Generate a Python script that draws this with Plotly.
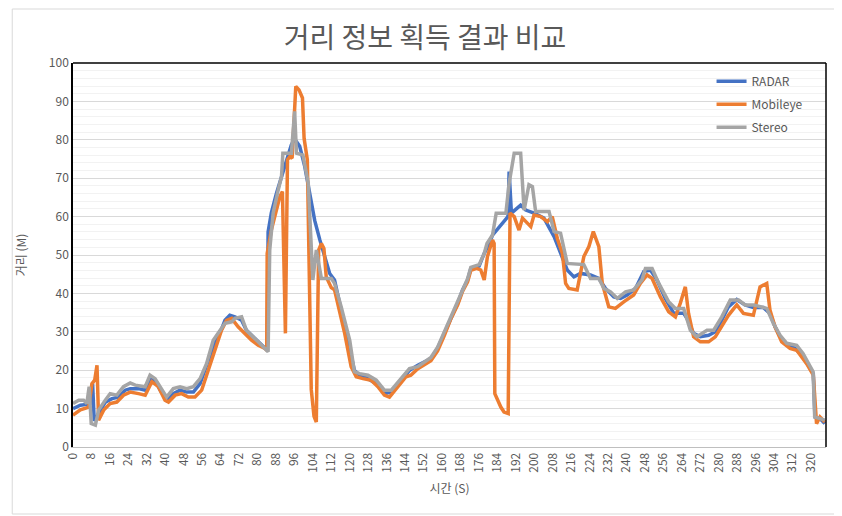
import plotly.graph_objects as go

# ── Data (time in s, distance in m) ─────────────────────────────────────────
radar_t = [0, 3.2, 6, 7.5, 8.5, 9.2, 11.1, 14, 16.9, 19.7, 22.6, 24.8, 28.4, 31.3, 33.4, 35.6,
           37.8, 40.6, 43.5, 46.4, 49.3, 52.2, 55.1, 57.9, 60.8, 63.7, 65.9, 68, 70.2, 73.1, 75.2,
           78.1, 81, 83.2, 84.2, 84.6, 86, 88.2, 90.4, 92.5, 94.7, 96.1, 98.3, 100.5, 102.6, 104.8,
           107, 109, 111.3, 113.4, 115.6, 117.8, 120, 122, 124.3, 127.9, 131.5, 135, 138, 142.3,
           146, 149.5, 155.2, 158.1, 161, 163.9, 166.8, 168.9, 171.1, 172.5, 176.1, 178.3, 180.5,
           181.9, 184.8, 187.7, 188.6, 189.1, 190.1, 194.1, 196.3, 199.9, 204.2, 208.6, 212.2,
           214.3, 217.2, 220.1, 224.4, 228, 230.9, 234.5, 237.4, 240.3, 243.9, 247.5, 250.4, 253.2,
           256.8, 260.5, 264.8, 266.2, 269.1, 272, 275.6, 278.5, 281.3, 284.2, 287.8, 291.4, 295,
           299.4, 302.2, 304.4, 306.6, 309.5, 313.1, 315.9, 318.8, 321, 321.7, 323.9, 326]
radar_d = [10, 10.9, 11.1, 11.3, 16.5, 6.8, 8.7, 11.7, 12.6, 13, 14.8, 15.2, 15.2, 14.8, 17.8, 17.4,
           14.8, 12.2, 13.9, 14.8, 14.3, 14.3, 16.5, 20.9, 26.1, 29.6, 33, 34.3, 33.9, 33, 30.4,
           28.7, 27, 25.7, 25.2, 56, 61, 66, 70.4, 74.8, 78.7, 80.2, 78.3, 73, 66, 59,
           54, 49.6, 45.2, 43.5, 37.4, 31.3, 25.2, 20, 18.7, 17.8, 16.5, 13.9, 14.3, 17.4,
           20, 21.3, 23, 25.7, 29.6, 33.9, 37.4, 40.9, 43.5, 46.5, 47.1, 50.4, 53,
           55.2, 57.4, 59.6, 60, 71.7, 60.9, 63, 61.7, 60.9, 59.6, 54.8, 49.6,
           46.1, 44.3, 45.2, 44.8, 43.9, 41.3, 39.1, 38.7, 39.6, 41.3, 45.7, 46.1, 43.5,
           38.7, 34.8, 34.8, 33.5, 29.6, 28.7, 29.1, 30, 33, 36.5, 38.4, 37, 36.3,
           36.3, 34.8, 31.3, 28.7, 26.5, 25.7, 23.9, 21.3, 19.1, 7.8, 7.4, 6.1]

mobileye_t = [0, 3.2, 6.8, 8.2, 9.4, 10.4, 11.1, 13.3, 16.1, 19, 21.9, 24.8, 28.4, 31.3, 34.2, 37,
              39.9, 41.4, 44.3, 47.1, 50, 52.9, 55.8, 58.7, 61.5, 64.4, 66.6, 68.8, 71.6, 74.5,
              77.4, 80.3, 83.2, 84, 84.2, 86, 88.2, 89.7, 90.8, 92.1, 93, 94, 95, 96.6, 98, 99.5,
              100.2, 101.6, 103.3, 104.5, 105.5, 106.5, 107.7, 108.8, 109.8, 112, 113.4, 117.8,
              120.6, 122.8, 125.7, 129.3, 132.2, 135, 137.2, 140.8, 144.4, 146.5, 149.5, 155.2,
              158.1, 161, 163.9, 166.8, 168.9, 171.1, 172.5, 175, 176.8, 178.3, 179.7, 181.9,
              182.6, 182.9, 185.5, 186.9, 188.7, 189.5, 191.3, 193.4, 194.9, 197, 198.5, 199.9,
              202.8, 205.7, 207.8, 210, 212.2, 213.6, 215, 218.6, 221.5, 223.7, 225.6, 228, 229.5,
              232.3, 235.2, 238.8, 243.1, 246, 248.9, 251.1, 254.7, 258.3, 261.2, 263.3, 265.5,
              266.9, 269.1, 272, 275.6, 278.5, 281.3, 284.2, 287.8, 290.7, 295, 297.9, 300.8,
              302.2, 304.4, 307.3, 310.9, 313.8, 318.1, 321, 322.4, 323.9, 326]
mobileye_d = [8.3, 9.7, 10.4, 16.5, 17.4, 21.3, 7, 9.6, 11.3, 11.7, 13.5, 14.3, 13.9, 13.5, 17, 15.7,
              12.2, 11.7, 13.5, 13.9, 13, 13, 14.8, 20, 25.2, 30.4, 33, 33.5, 31.3, 29.6,
              27.8, 26.5, 25.7, 25.2, 50.4, 56.5, 61.7, 65.2, 66.5, 29.6, 74.8, 75.6, 75.2, 93.9, 93, 90.9,
              80.4, 74.8, 15, 8, 6.5, 51.3, 53, 51.7, 44.3, 41.5, 40.9, 29.6,
              20.9, 18.3, 17.8, 17.4, 15.7, 13.5, 13, 15.7, 18.3, 18.7, 20.4, 22.5,
              25, 29, 33.5, 37, 40.5, 43, 46, 46.5, 46.1, 43.5, 49.6, 53.9,
              53, 13.9, 10.4, 9.1, 8.7, 60.9, 60, 56.5, 59.6, 58.3, 57.4, 60.4,
              60, 58.7, 60, 54.3, 50.4, 42.6, 41.3, 40.9, 49.6, 52.2, 56.1, 52.2, 42.6,
              36.5, 36.1, 37.8, 39.6, 42.6, 44.8, 43.9, 39.1, 35.2, 33.9, 37.4, 41.7,
              34.8, 28.7, 27.4, 27.4, 28.7, 31.3, 34.3, 37, 34.8, 34.3, 41.7, 42.6,
              35.7, 31.3, 27.4, 25.7, 25.2, 21.7, 18.7, 6.1, 7.8, 6.5]

stereo_t = [0, 2.5, 4.6, 6, 7, 7.9, 9.7, 11.1, 14, 16.1, 19, 21.9, 24.8, 27, 31.3, 33.4, 35.6, 38.5,
            40.6, 43.5, 46.4, 49.3, 52.2, 55.1, 57.9, 60.8, 62.3, 64.4, 65.9, 68.8, 70.2, 73.1,
            75.2, 78.8, 81.7, 84.6, 85.3, 86.8, 89, 90.4, 91, 94.7, 96.1, 96.9, 99.7, 102, 104,
            105.5, 107.7, 112, 113.4, 116.3, 120, 122, 124.3, 127.9, 131.5, 135, 138, 142.3, 145.9,
            149.5, 155.2, 158.1, 161, 163.9, 166.8, 168.9, 171.1, 172.5, 176.1, 178.3, 179.5, 181.9,
            183.5, 187.7, 189.1, 191.3, 194.1, 195.6, 197.7, 199.2, 200.6, 206.4, 208.6, 211.4,
            214.3, 221.5, 224.4, 228, 230.2, 233.1, 236, 239.6, 243.1, 246.7, 248.2, 251.1, 254,
            258.3, 261.2, 264.8, 267.7, 270.5, 274.9, 277.8, 281.3, 285, 288.6, 291.4, 295, 300.8,
            303.7, 306.6, 309.5, 313.8, 316.6, 320.9, 321.6, 326]
stereo_d = [11.3, 12.2, 12.2, 11.3, 15.7, 6.1, 5.7, 9.6, 12.2, 13.9, 13.5, 15.7, 16.7, 16.1, 15.7, 18.7, 17.8, 14.8,
            13, 15.2, 15.7, 15.2, 15.7, 17.8, 21.7, 27.8, 29.1, 31.3, 32.2, 32.6, 33.5, 33.9,
            30.4, 28.3, 26.5, 24.8, 51.3, 61, 67, 70.4, 76.5, 76.5, 87.4, 76.5, 76, 68.7, 43.5,
            51.3, 43.9, 43.9, 42.6, 36.5, 27.8, 19.6, 19.1, 18.7, 17.4, 14.8, 14.8, 17.8, 20.4,
            20.9, 23.3, 26, 30, 34.2, 37.8, 41.2, 43.8, 46.8, 47.5, 50.4, 53, 55.2,
            60.9, 60.9, 68.7, 76.5, 76.5, 61.7, 68.3, 67.8, 61.3, 61.3, 56.1, 55.7,
            47.8, 47.5, 43.9, 43.9, 41.3, 40.4, 38.7, 40.4, 40.9, 43.5, 46.5, 46.5, 42.6,
            37.8, 36.1, 36.1, 30.4, 28.7, 30.4, 30.4, 33.9, 38.3, 38.3, 37, 37, 36.1,
            32.2, 29.1, 27, 26.5, 24.3, 19.6, 7.8, 7]

x_ticks = list(range(0, 321, 8))

TXT = "#595959"
FONT = dict(family="Noto Sans CJK KR, Noto Sans, sans-serif", color=TXT, size=12)

fig = go.Figure()
for name, t, d, col in [("RADAR", radar_t, radar_d, "#4472C4"),
                        ("Mobileye", mobileye_t, mobileye_d, "#ED7D31"),
                        ("Stereo", stereo_t, stereo_d, "#A5A5A5")]:
    fig.add_trace(go.Scatter(x=t, y=d, name=name, mode="lines", legendgroup=name,
                             line=dict(color=col, width=3.5)))

# page body has an 8px margin, so the figure is 834x508 and margins are shifted
fig.update_layout(
    width=834, height=508,
    paper_bgcolor="white", plot_bgcolor="white",
    font=FONT,
    title=dict(text="거리 정보 획득 결과 비교", x=0.5, xanchor="center", y=0.94, yanchor="middle",
               font=dict(size=28, color=TXT)),
    margin=dict(l=62, r=16, t=55, b=69),
    legend=dict(x=0.848, y=0.99, xanchor="left", yanchor="top", bgcolor="rgba(0,0,0,0)",
                font=dict(size=12, color=TXT), tracegroupgap=4, itemwidth=30),
    xaxis=dict(range=[0, 326.5], tickmode="array", tickvals=x_ticks,
               ticktext=[str(v) for v in x_ticks], tickangle=-90,
               showgrid=False, zeroline=False, showline=True, linecolor="#BFBFBF",
               ticks="", title=dict(text="시간 (S)", standoff=12, font=dict(size=12, color=TXT))),
    yaxis=dict(range=[0, 100], dtick=10, gridcolor="#D9D9D9", zeroline=False,
               showline=True, linecolor="black", linewidth=1.5, ticks="",
               minor=dict(dtick=2, showgrid=True, gridcolor="#F2F2F2"),
               title=dict(text="거리 (M)", standoff=20, font=dict(size=12, color=TXT))),
)

# black frame on top and right of plot area, light border around the chart
fig.add_shape(type="line", xref="paper", yref="paper", x0=0, x1=1, y0=1, y1=1,
              line=dict(color="black", width=1.5))
fig.add_shape(type="line", xref="paper", yref="paper", x0=1, x1=1, y0=0, y1=1,
              line=dict(color="black", width=1.5))
fig.add_shape(type="rect", xref="paper", yref="paper",
              x0=-61 / 756, x1=1 + 10 / 756, y0=-67 / 384, y1=1 + 54 / 384,
              line=dict(color="#D9D9D9", width=1))

fig.write_html("out.html")
